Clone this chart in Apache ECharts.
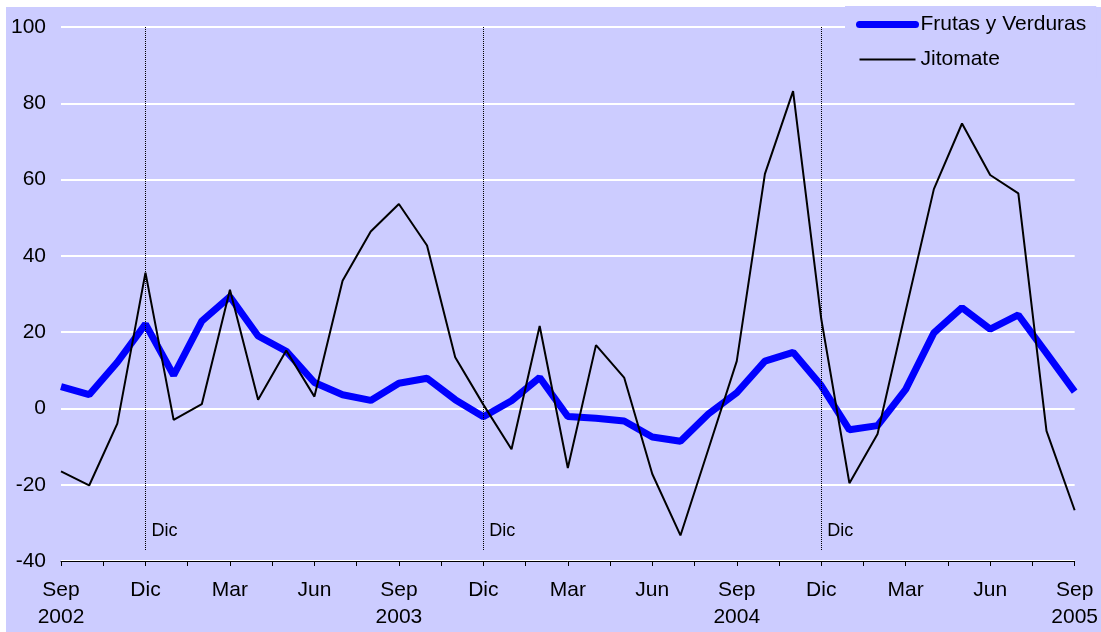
<!DOCTYPE html>
<html>
<head>
    <meta charset="utf-8">
    <title>Frutas y Verduras / Jitomate</title>
    <script src="https://cdn.jsdelivr.net/npm/echarts@6/dist/echarts.min.js"></script>
</head>
<body style="margin:0;background:#fff">
    <div id="main" style="width:1101px;height:632px;"></div>
    <script>
        // one tick label every 3 months, starting Sep 2002
        var tickLabels = ['Sep\n2002', 'Dic', 'Mar', 'Jun', 'Sep\n2003', 'Dic', 'Mar', 'Jun',
            'Sep\n2004', 'Dic', 'Mar', 'Jun', 'Sep\n2005'];

        // monthly values, Sep 2002 .. Sep 2005
        var frutas = [5.7, 3.6, 12.1, 22.1, 8.7, 22.9, 29.3, 19.0, 15.0, 6.8, 3.6, 2.1, 6.6,
            7.9, 2.3, -2.2, 2.0, 8.1, -2.1, -2.6, -3.3, -7.5, -8.6, -1.4, 4.1,
            12.4, 14.7, 6.0, -5.6, -4.5, 5.0, 19.8, 26.4, 20.8, 24.5, 14.5, 4.4];
        var jitomate = [-16.5, -20.2, -4.0, 35.6, -3.0, 1.1, 31.1, 2.3, 15.2, 3.1, 33.5, 46.4, 53.6,
            42.7, 13.4, 1.0, -10.7, 21.6, -15.6, 16.6, 8.1, -17.2, -33.3, -10.5, 12.4,
            61.5, 83.2, 23.5, -19.6, -6.7, 25.6, 57.5, 74.7, 61.2, 56.4, -5.9, -26.7];

        // month index of each December marker
        var dicIdx = [3, 15, 27];

        var font = "'Liberation Sans', Arial, sans-serif";
        var myChart = echarts.init(document.getElementById('main'));

        function pairs(arr) {
            return arr.map(function (v, i) { return [i, v]; });
        }

        var option = {
            animation: false,
            backgroundColor: '#ffffff',
            textStyle: { fontFamily: font },
            graphic: [{
                type: 'rect',
                z: -10,
                silent: true,
                shape: { x: 6, y: 7, width: 1095, height: 625 },
                style: { fill: '#CCCCFF' }
            }],
            grid: { left: 61, right: 26, top: 27, bottom: 71 },
            legend: {
                orient: 'vertical',
                left: 845,
                top: 6,
                padding: [8, 10, 8, 11],
                backgroundColor: '#CCCCFF',
                itemWidth: 56,
                itemHeight: 14,
                itemGap: 14,
                itemStyle: { opacity: 0 },
                textStyle: { fontSize: 21, color: '#000', fontFamily: font },
                data: [
                    { name: 'Frutas y Verduras', lineStyle: { width: 7, cap: 'round', color: '#0000FF' } },
                    { name: 'Jitomate', lineStyle: { width: 2, color: '#000000' } }
                ]
            },
            xAxis: {
                type: 'value',
                min: 0,
                max: 36,
                interval: 1.5,
                axisLine: { onZero: false, lineStyle: { color: '#000', width: 1 } },
                axisTick: { length: 5, lineStyle: { color: '#000' } },
                splitLine: { show: false },
                axisLabel: {
                    color: '#000',
                    fontSize: 21,
                    lineHeight: 27,
                    margin: 16,
                    fontFamily: font,
                    formatter: function (v) {
                        return v % 3 === 0 ? tickLabels[v / 3] : '';
                    }
                }
            },
            yAxis: {
                type: 'value',
                min: -40,
                max: 100,
                interval: 20,
                axisLine: { show: false },
                axisTick: { show: false },
                splitLine: { lineStyle: { color: '#ffffff', width: 2 } },
                axisLabel: { color: '#000', fontSize: 21, margin: 15, fontFamily: font }
            },
            series: [{
                name: 'Frutas y Verduras',
                type: 'line',
                data: pairs(frutas),
                symbol: 'none',
                color: '#0000FF',
                lineStyle: { color: '#0000FF', width: 7 }
            }, {
                name: 'Jitomate',
                type: 'line',
                data: pairs(jitomate),
                symbol: 'none',
                color: '#000000',
                lineStyle: { color: '#000000', width: 2 },
                markLine: {
                    silent: true,
                    symbol: 'none',
                    label: { show: false },
                    lineStyle: { color: '#000', type: 'dotted', width: 1 },
                    data: dicIdx.map(function (i) {
                        return [{ coord: [i, 100] }, { coord: [i, -37.4] }];
                    })
                },
                markPoint: {
                    silent: true,
                    symbol: 'circle',
                    symbolSize: 0,
                    label: {
                        show: true,
                        position: 'right',
                        distance: 6,
                        color: '#000',
                        fontSize: 18,
                        fontFamily: font,
                        formatter: 'Dic'
                    },
                    data: dicIdx.map(function (i) {
                        return { coord: [i, -32.1] };
                    })
                }
            }]
        };

        myChart.setOption(option);
    </script>
</body>
</html>
